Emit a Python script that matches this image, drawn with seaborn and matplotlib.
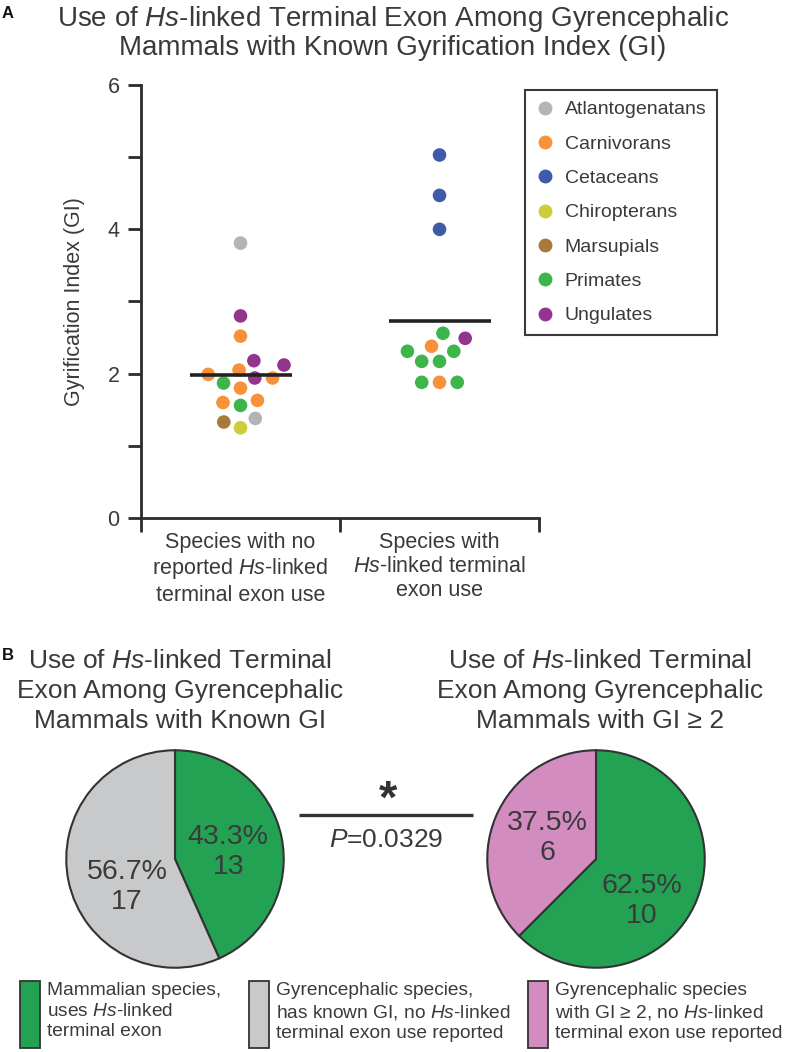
import numpy as np
import pandas as pd
import seaborn as sns
import matplotlib.pyplot as plt
from matplotlib.lines import Line2D
from matplotlib.patches import Rectangle

# ---- panel A: gyrification index of each species ----
gi_no_use = [3.81, 2.80, 2.52, 2.18, 2.12, 2.05, 1.99, 1.94, 1.94, 1.87,
             1.80, 1.63, 1.60, 1.56, 1.38, 1.33, 1.25]
clade_no_use = ['Atlantogenatans', 'Ungulates', 'Carnivorans', 'Ungulates',
                'Ungulates', 'Carnivorans', 'Carnivorans', 'Carnivorans',
                'Ungulates', 'Primates', 'Carnivorans', 'Carnivorans',
                'Carnivorans', 'Primates', 'Atlantogenatans', 'Marsupials',
                'Chiropterans']
gi_use = [5.03, 4.47, 4.00, 2.56, 2.49, 2.38, 2.31, 2.31, 2.17, 2.17,
          1.88, 1.88, 1.88]
clade_use = ['Cetaceans', 'Cetaceans', 'Cetaceans', 'Primates', 'Ungulates',
             'Carnivorans', 'Primates', 'Primates', 'Primates', 'Primates',
             'Carnivorans', 'Primates', 'Primates']

clades = ['Atlantogenatans', 'Carnivorans', 'Cetaceans', 'Chiropterans',
          'Marsupials', 'Primates', 'Ungulates']
clade_colors = ['#b4b4b4', '#f7923a', '#3f5aa8', '#cdcd3a', '#a8793a',
                '#3db54b', '#93348f']

groups = ['none', 'use']
group_labels = ['Species with no\nreported $\\mathit{Hs}$-linked\nterminal exon use',
                'Species with\n$\\mathit{Hs}$-linked terminal\nexon use']

# ---- panel B: species counts ----
pie_known_gi = [13, 17]   # uses Hs-linked exon, no use reported
pie_gi2 = [10, 6]
p_value = '0.0329'

GREEN = '#23a254'
GRAY = '#c8c9cb'
PINK = '#d38cbf'
TXT = '#3a3a3a'
DARK = '#2b2b2b'

sns.set_style('ticks')
plt.rcParams['font.family'] = ['Liberation Sans', 'DejaVu Sans']
plt.rcParams['mathtext.fontset'] = 'custom'
plt.rcParams['mathtext.rm'] = 'Liberation Sans'
plt.rcParams['mathtext.it'] = 'Liberation Sans:italic'
plt.rcParams['text.color'] = TXT
plt.rcParams['axes.labelcolor'] = TXT
plt.rcParams['xtick.labelcolor'] = TXT
plt.rcParams['ytick.labelcolor'] = TXT

df = pd.DataFrame({
    'group': ['none'] * len(gi_no_use) + ['use'] * len(gi_use),
    'gi': gi_no_use + gi_use,
    'clade': clade_no_use + clade_use,
})

W, H = 787, 1052
fig = plt.figure(figsize=(W / 100, H / 100), dpi=100)

# scatter panel
ax = fig.add_axes([141 / W, 1 - 518 / H, 398 / W, 433 / H])
# thin white edge keeps the swarm slightly looser, like the original
sns.swarmplot(data=df, x='group', y='gi', hue='clade', order=groups,
              hue_order=clades, palette=dict(zip(clades, clade_colors)),
              size=11, linewidth=1.2, edgecolor='white', legend=False,
              ax=ax, zorder=2)
sns.pointplot(data=df, x='group', y='gi', order=groups, estimator='mean',
              errorbar=None, color='#222222', markers='_', markersize=73,
              markeredgewidth=2.6, linestyle='none', ax=ax, zorder=5)

ax.set_xlim(-0.5, 1.5)
ax.set_ylim(0, 6)
ax.set_yticks([0, 2, 4, 6])
ax.set_yticks([1, 3, 5], minor=True)
ax.set_xticks([0, 1], group_labels, linespacing=1.2)
ax.set_xticks([-0.5, 0.5, 1.5], minor=True)
ax.tick_params(axis='y', which='both', length=9.5, width=2, color=DARK,
               labelsize=15.5, pad=6)
ax.tick_params(axis='x', which='major', length=0, pad=10, labelsize=15.5)
ax.tick_params(axis='x', which='minor', length=10, width=2, color=DARK)
ax.set_xlabel('')
ax.set_ylabel('Gyrification Index (GI)', fontsize=15.5, labelpad=16)
for s in ['top', 'right']:
    ax.spines[s].set_visible(False)
for s in ['left', 'bottom']:
    ax.spines[s].set_linewidth(2)
    ax.spines[s].set_color(DARK)

handles = [Line2D([0], [0], marker='o', ls='none', ms=10, mfc=c, mec=c,
                  mew=0, label=n) for n, c in zip(clades, clade_colors)]
leg = fig.legend(handles=handles, loc='upper left',
                 bbox_to_anchor=(525 / W, 1 - 90 / H), frameon=True,
                 fancybox=False, edgecolor='#3a3a3a', framealpha=1,
                 fontsize=14, labelspacing=0.86, handletextpad=0.5,
                 handlelength=1.0, borderpad=0.55, borderaxespad=0)
leg.get_frame().set_linewidth(1.5)

# pies
R = 112
def draw_pie(cx, cy, counts, colors, label_pos):
    pax = fig.add_axes([(cx - R) / W, 1 - (cy + R) / H, 2 * R / W, 2 * R / H])
    pax.pie(counts, colors=colors, startangle=90, counterclock=False,
            wedgeprops=dict(edgecolor='#333333', linewidth=1.5))
    pax.set_xlim(-1.03, 1.03)
    pax.set_ylim(-1.03, 1.03)
    total = sum(counts)
    for v, (lx, ly) in zip(counts, label_pos):
        pax.text(lx, ly, f'{100 * v / total:.1f}%\n{v}', ha='center',
                 va='center', fontsize=20.5, linespacing=1.2, color=TXT)

draw_pie(175, 859, pie_known_gi, [GREEN, GRAY], [(0.49, 0.06), (-0.44, -0.26)])
draw_pie(596, 859, pie_gi2, [GREEN, PINK], [(0.42, -0.39), (-0.45, 0.19)])

# overlay for titles and annotations (pixel coords)
ov = fig.add_axes([0, 0, 1, 1])
ov.set_xlim(0, W)
ov.set_ylim(H, 0)
ov.axis('off')

ov.text(393, 4, 'Use of $\\mathit{Hs}$-linked Terminal Exon Among Gyrencephalic\n'
        'Mammals with Known Gyrification Index (GI)', ha='center', va='top',
        fontsize=20, linespacing=1.05)
ov.text(2, 13, 'A', fontsize=12, fontweight='bold', va='center', color='#111111')
ov.text(2, 655, 'B', fontsize=12, fontweight='bold', va='center', color='#111111')

ov.text(180, 691, 'Use of $\\mathit{Hs}$-linked Terminal\nExon Among Gyrencephalic\n'
        'Mammals with Known GI', ha='center', va='center', fontsize=19,
        linespacing=1.3)
ov.text(600, 691, 'Use of $\\mathit{Hs}$-linked Terminal\nExon Among Gyrencephalic\n'
        'Mammals with GI ≥ 2', ha='center', va='center', fontsize=19,
        linespacing=1.3)

ov.plot([299, 473], [815, 815], color='#333333', lw=2.4, solid_capstyle='butt')
ov.text(388, 813, '*', ha='center', va='baseline', fontsize=34,
        fontweight='bold', color='#333333')
ov.text(386, 840, '$\\mathit{P}$=' + p_value, ha='center', va='center',
        fontsize=19)

leg_items = [
    (20, GREEN, 'Mammalian species,\nuses $\\mathit{Hs}$-linked\nterminal exon'),
    (249, GRAY, 'Gyrencephalic species,\nhas known GI, no $\\mathit{Hs}$-linked\n'
               'terminal exon use reported'),
    (528, PINK, 'Gyrencephalic species\nwith GI ≥ 2, no $\\mathit{Hs}$-linked\n'
               'terminal exon use reported'),
]
for x0, col, txt in leg_items:
    ov.add_patch(Rectangle((x0, 981), 20, 67, facecolor=col,
                           edgecolor='#333333', linewidth=1.3))
    ov.text(x0 + 27, 982, txt, ha='left', va='top', fontsize=13.8,
            linespacing=1.27)

fig.savefig('out.png', dpi=100)
